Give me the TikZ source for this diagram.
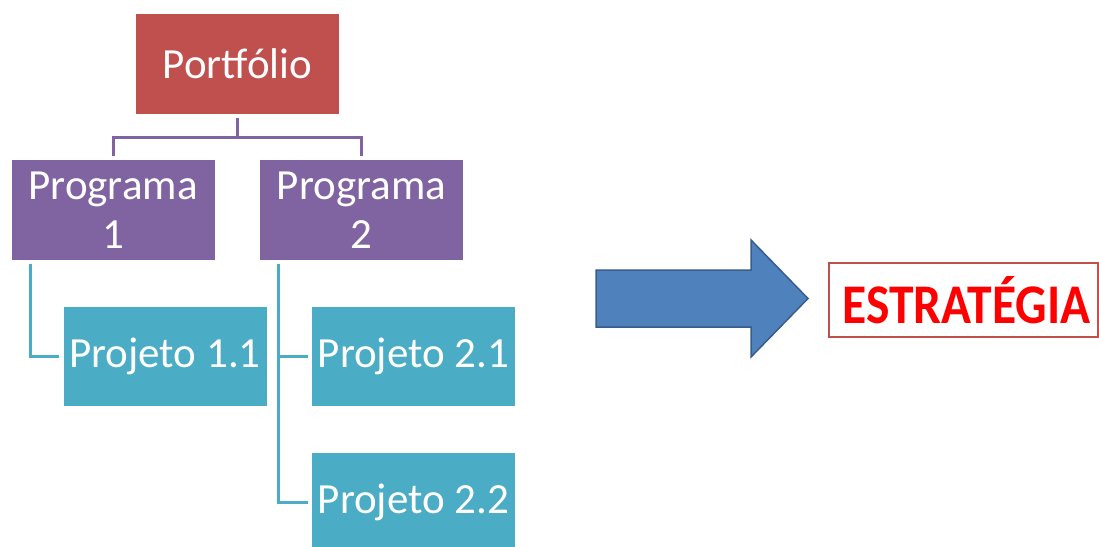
\documentclass[tikz,border=0pt]{standalone}
\usepackage{fontspec}
\setmainfont{Carlito}
\definecolor{pfred}{HTML}{C0504D}
\definecolor{pgpurple}{HTML}{8064A2}
\definecolor{pjcyan}{HTML}{4BACC6}
\definecolor{arrblue}{HTML}{4F81BD}
\definecolor{arrborder}{HTML}{385D8A}
\definecolor{strred}{HTML}{FF0000}
\begin{document}
\begin{tikzpicture}[x=1pt,y=-1pt,
  boxbase/.style={rectangle, inner sep=0pt, text=white, align=center, font=\fontsize{43}{49}\selectfont},
  pfbox/.style={boxbase, fill=pfred, minimum width=203pt, minimum height=100pt},
  pgbox/.style={boxbase, fill=pgpurple, minimum width=203pt, minimum height=100pt},
  pjbox/.style={boxbase, fill=pjcyan, minimum width=203pt, minimum height=99pt},
  pgline/.style={draw=pgpurple, line width=3pt},
  pjline/.style={draw=pjcyan, line width=3pt},
  stratbox/.style={rectangle, draw=pfred, line width=1.6pt, minimum width=269pt, minimum height=74pt, inner sep=0pt, text=strred, font=\bfseries\fontsize{56}{62}\selectfont}
]
\useasboundingbox (0,0) rectangle (1099,546);
\clip (0,0) rectangle (1099,546);
\node[pfbox] (port) at (237.5,64) {Portfólio};
\node[pgbox] (prog1) at (113,210) {Programa\\1};
\node[pgbox] (prog2) at (361.5,210) {Programa\\2};
\node[pjbox] (proj11) at (165,356.5) {Projeto 1.1};
\node[pjbox] (proj21) at (413.5,356.5) {Projeto 2.1};
\node[pjbox] (proj22) at (413.5,502.5) {Projeto 2.2};
% purple connectors
\coordinate (bar) at ([yshift=-23pt]port.south);
\draw[pgline] ([yshift=-4pt]port.south) -- (bar) -| ([yshift=4pt]prog1.north);
\draw[pgline] (bar) -| ([yshift=4pt]prog2.north);
% cyan connectors
\draw[pjline] ([xshift=19.5pt,yshift=-4pt]prog1.south west) |- ([xshift=-4pt]proj11.west);
\draw[pjline] ([xshift=19pt,yshift=-4pt]prog2.south west) |- ([xshift=-4pt]proj22.west);
\draw[pjline] ([xshift=19pt]prog2.south west |- proj21.west) -- ([xshift=-4pt]proj21.west);
% big arrow
\draw[fill=arrblue, draw=arrborder, line width=1.5pt, line join=miter]
  (596,270) -- (751,270) -- (751,240) -- (808,298.5) -- (751,357) -- (751,327) -- (596,327) -- cycle;
\node[stratbox] (strat) at (963.5,300) {\hspace*{6pt}\scalebox{0.885}[1]{ESTRATÉGIA}};
\end{tikzpicture}
\end{document}
